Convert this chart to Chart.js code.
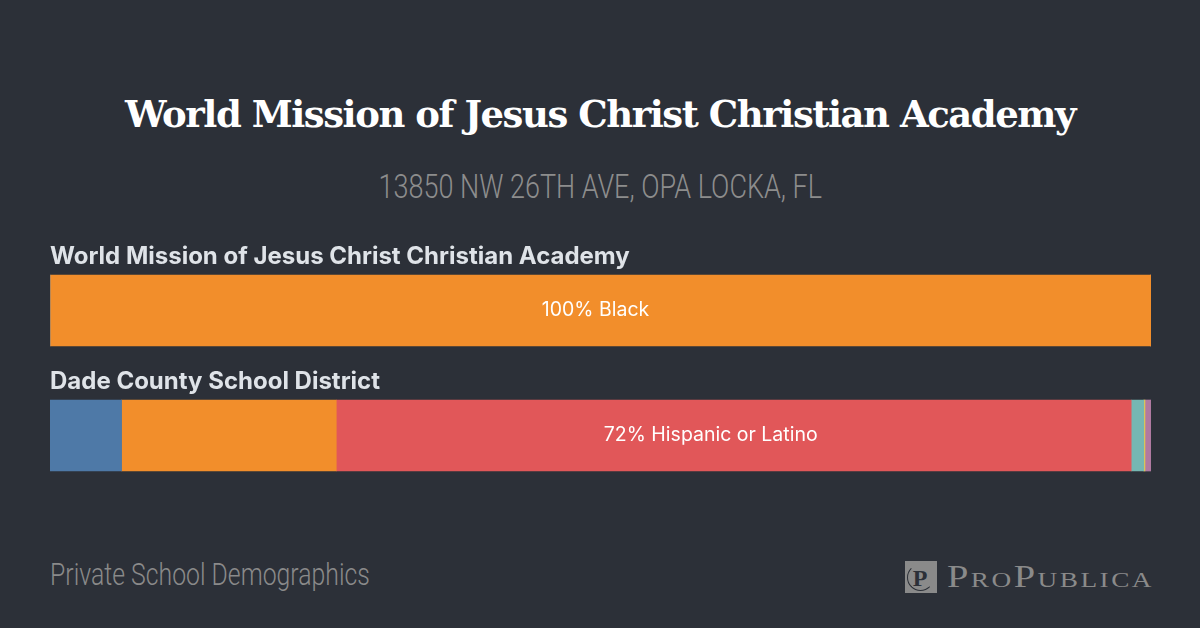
<!DOCTYPE html>
<html>
<head>
<meta charset="utf-8">
<script src="https://cdn.jsdelivr.net/npm/chart.js@4.4.1/dist/chart.umd.min.js"></script>
<style>
  html, body { margin: 0; padding: 0; }
  body { width: 1200px; height: 628px; background: #2c3038; position: relative; overflow: hidden; }
  .title { position: absolute; left: 0; width: 1200px; top: 92px; text-align: center;
           font-family: "DejaVu Serif", serif; font-weight: bold; font-size: 37px; color: #fff; letter-spacing: -1.45px; }
  .sub { position: absolute; left: 0; width: 1200px; top: 166px; text-align: center; }
  .sub span { display: inline-block; font-family: Roboto, sans-serif; font-weight: 300; font-size: 34px;
              color: #8d8d8d; transform: scaleX(0.794); transform-origin: center; }
  .foot { position: absolute; left: 50px; top: 556px; font-family: Roboto, sans-serif; font-weight: 300;
          font-size: 31px; color: #8a8a8a; transform: scaleX(0.80); transform-origin: left; white-space: nowrap; }
  .logo { position: absolute; left: 905px; top: 560px; height: 34px; display: flex; align-items: center; }
  .logo .icon { position: relative; width: 32px; height: 32px; background: #8a8a8a; }
  .logo .ring { position: absolute; left: 2px; top: 3px; width: 25px; height: 25px; border: 1.5px solid #2c3038;
                border-radius: 50%; border-right-color: transparent; border-top-color: transparent; }
  .logo .p { position: absolute; left: 0; top: 0; width: 30px; height: 32px; color: #2c3038; font-family: "Liberation Serif", serif;
             font-weight: bold; font-size: 24px; line-height: 34px; text-align: center; }
  .logo .word { margin-left: 10px; font-family: "Liberation Serif", serif; font-size: 31px; color: #8a8a8a;
                font-variant: small-caps; letter-spacing: 2px; line-height: 34px; transform: scaleX(1.24);
                transform-origin: left; white-space: nowrap; }
  #wrap { position: absolute; left: 50px; top: 220px; width: 1101px; height: 280px; }
</style>
</head>
<body>
<div class="title">World Mission of Jesus Christ Christian Academy</div>
<div class="sub"><span>13850 NW 26TH AVE, OPA LOCKA, FL</span></div>
<div id="wrap"><canvas id="chart"></canvas></div>
<div class="foot">Private School Demographics</div>
<div class="logo"><div class="icon"><div class="ring"></div><div class="p">P</div></div><div class="word">ProPublica</div></div>
<script>
// rows of the chart
const schools = ['World Mission of Jesus Christ Christian Academy', 'Dade County School District'];

// share of students, percent, per group (one value per school)
const white    = [0, 6.5];
const black    = [100, 19.5];
const hispanic = [0, 72.2];
const asian    = [0, 1.15];
const native   = [0, 0.1];
const twoPlus  = [0, 0.55];

const groups = [
    { label: 'White', data: white, color: '#4e79a7' },
    { label: 'Black', data: black, color: '#f28e2b' },
    { label: 'Hispanic or Latino', data: hispanic, color: '#e15759' },
    { label: 'Asian', data: asian, color: '#76b7b2' },
    { label: 'American Indian or Alaska Native', data: native, color: '#edc948' },
    { label: 'Two or More Races', data: twoPlus, color: '#b07aa1' }
];

// writes school name over each bar and the biggest group inside it
const barLabels = {
    id: 'barLabels',
    afterDatasetsDraw(chart, args, opts) {
        const ctx = chart.ctx;
        const left = chart.chartArea.left;
        ctx.save();
        schools.forEach((name, i) => {
            const bar = chart.getDatasetMeta(0).data[i];
            const top = bar.y - bar.height / 2;
            ctx.fillStyle = '#dfe3e8';
            ctx.font = 'bold 24px Inter, sans-serif';
            ctx.textAlign = 'left';
            ctx.textBaseline = 'middle';
            ctx.fillText(name, left, top - 18);

            // find largest segment
            let best = 0;
            groups.forEach((g, j) => { if (g.data[i] > groups[best].data[i]) best = j; });
            const seg = chart.getDatasetMeta(best).data[i];
            const cx = (seg.x + seg.base) / 2 + opts.nudge[i];
            ctx.fillStyle = '#ffffff';
            ctx.font = '19.5px Inter, sans-serif';
            ctx.textAlign = 'center';
            ctx.fillText(Math.round(groups[best].data[i]) + '% ' + groups[best].label, cx, seg.y);
        });
        ctx.restore();
    }
};

new Chart(document.getElementById('chart'), {
    type: 'bar',
    data: {
        labels: schools,
        datasets: groups.map(g => ({
            label: g.label,
            data: g.data,
            backgroundColor: g.color,
            borderWidth: 0,
            barThickness: 71
        }))
    },
    options: {
        indexAxis: 'y',
        responsive: true,
        maintainAspectRatio: false,
        animation: false,
        layout: { padding: { top: 28, bottom: 2, left: 0, right: 0 } },
        scales: {
            x: { stacked: true, min: 0, max: 100, display: false },
            y: { stacked: true, display: false }
        },
        plugins: {
            legend: { display: false },
            tooltip: { enabled: false },
            barLabels: { nudge: [-5, -23] }
        }
    },
    plugins: [barLabels]
});
</script>
</body>
</html>
